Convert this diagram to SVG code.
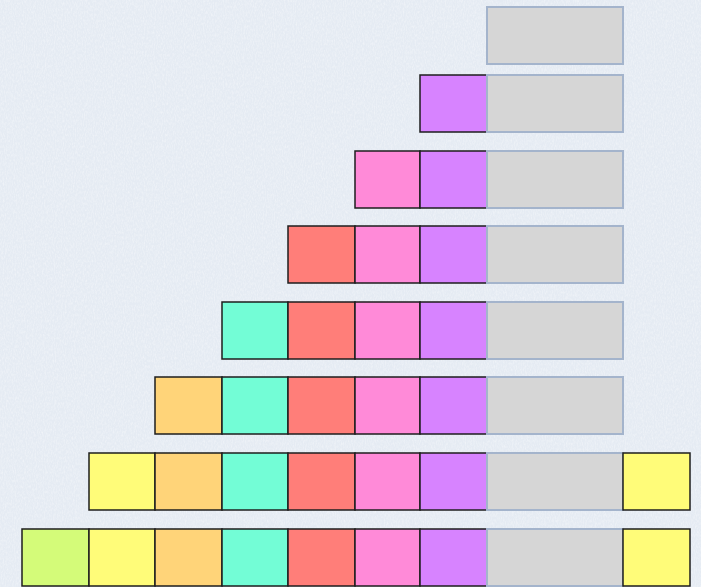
<svg xmlns="http://www.w3.org/2000/svg" width="701" height="587" viewBox="0 0 701 587">
<style>
.c{stroke:#1e1e1e;stroke-width:1.5}
.g{fill:#d6d6d6;stroke:#a4b4cc;stroke-width:2}
.pu{fill:#d783ff}.pk{fill:#ff8ad8}.rd{fill:#ff7e79}.tl{fill:#73fdd6}.or{fill:#ffd479}.ye{fill:#fffc79}.li{fill:#d4fb79}
</style>
<defs>
<filter id="paper" x="0" y="0" width="100%" height="100%">
<feTurbulence type="fractalNoise" baseFrequency="0.9 0.35" numOctaves="3" seed="4" result="n"/>
<feColorMatrix in="n" type="matrix" values="0 0 0 0 1  0 0 0 0 1  0 0 0 0 1  0 0 0 -1.2 0.75" result="w"/>
<feComposite in="w" in2="SourceGraphic" operator="in"/>
</filter>
</defs>
<rect width="701" height="587" fill="#e5ebf3"/>
<rect width="701" height="587" fill="#e5ebf3" filter="url(#paper)" opacity="0.6"/>
<g id="row1">
<rect class="g" x="487" y="7" width="136" height="57"/>
</g>
<g id="row2">
<rect class="c pu" x="420" y="75" width="67" height="57"/>
<rect class="g" x="487" y="75" width="136" height="57"/>
</g>
<g id="row3">
<rect class="c pk" x="355" y="151" width="65" height="57"/>
<rect class="c pu" x="420" y="151" width="67" height="57"/>
<rect class="g" x="487" y="151" width="136" height="57"/>
</g>
<g id="row4">
<rect class="c rd" x="288" y="226" width="67" height="57"/>
<rect class="c pk" x="355" y="226" width="65" height="57"/>
<rect class="c pu" x="420" y="226" width="67" height="57"/>
<rect class="g" x="487" y="226" width="136" height="57"/>
</g>
<g id="row5">
<rect class="c tl" x="222" y="302" width="66" height="57"/>
<rect class="c rd" x="288" y="302" width="67" height="57"/>
<rect class="c pk" x="355" y="302" width="65" height="57"/>
<rect class="c pu" x="420" y="302" width="67" height="57"/>
<rect class="g" x="487" y="302" width="136" height="57"/>
</g>
<g id="row6">
<rect class="c or" x="155" y="377" width="67" height="57"/>
<rect class="c tl" x="222" y="377" width="66" height="57"/>
<rect class="c rd" x="288" y="377" width="67" height="57"/>
<rect class="c pk" x="355" y="377" width="65" height="57"/>
<rect class="c pu" x="420" y="377" width="67" height="57"/>
<rect class="g" x="487" y="377" width="136" height="57"/>
</g>
<g id="row7">
<rect class="c ye" x="89" y="453" width="66" height="57"/>
<rect class="c or" x="155" y="453" width="67" height="57"/>
<rect class="c tl" x="222" y="453" width="66" height="57"/>
<rect class="c rd" x="288" y="453" width="67" height="57"/>
<rect class="c pk" x="355" y="453" width="65" height="57"/>
<rect class="c pu" x="420" y="453" width="67" height="57"/>
<rect class="g" x="487" y="453" width="136" height="57"/>
<rect class="c ye" x="623" y="453" width="67" height="57"/>
</g>
<g id="row8">
<rect class="c li" x="22" y="529" width="67" height="57"/>
<rect class="c ye" x="89" y="529" width="66" height="57"/>
<rect class="c or" x="155" y="529" width="67" height="57"/>
<rect class="c tl" x="222" y="529" width="66" height="57"/>
<rect class="c rd" x="288" y="529" width="67" height="57"/>
<rect class="c pk" x="355" y="529" width="65" height="57"/>
<rect class="c pu" x="420" y="529" width="67" height="57"/>
<rect class="g" x="487" y="529" width="136" height="57"/>
<rect class="c ye" x="623" y="529" width="67" height="57"/>
</g>
<g id="connectors"/>
</svg>
